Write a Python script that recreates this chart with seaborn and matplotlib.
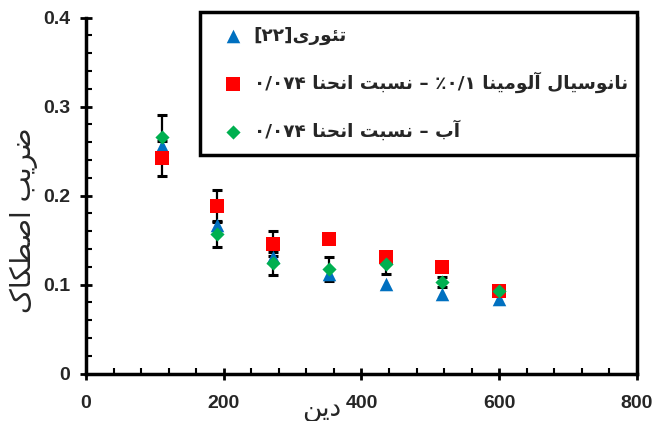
import numpy as np
import pandas as pd
import matplotlib
matplotlib.use("Agg")
import matplotlib.pyplot as plt
from matplotlib.ticker import MultipleLocator, FuncFormatter
import seaborn as sns

# ---------------- data ----------------
dean = [110, 190, 271, 353, 435, 517, 600]
theory = [0.256, 0.167, 0.131, 0.112, 0.101, 0.090, 0.084]
nanofluid = [0.242, 0.188, 0.146, 0.151, 0.131, 0.120, 0.093]
nanofluid_err = [0.020, 0.018, 0.014, 0.0, 0.0, 0.0, 0.0]
water = [0.266, 0.157, 0.124, 0.118, 0.123, 0.103, 0.093]
water_err = [0.025, 0.015, 0.013, 0.0135, 0.011, 0.006, 0.0]

x_ticks = [0, 200, 400, 600, 800]
y_ticks = [0, 0.1, 0.2, 0.3, 0.4]

# ---------------- simple Persian shaping (visual order) ----------------
FORMS = {
    'ا': ('\uFE8D', '\uFE8E', '\uFE8D', '\uFE8E'),
    'آ': ('\uFE81', '\uFE82', '\uFE81', '\uFE82'),
    'ب': ('\uFE8F', '\uFE90', '\uFE91', '\uFE92'),
    'ت': ('\uFE95', '\uFE96', '\uFE97', '\uFE98'),
    'ئ': ('\uFE89', '\uFE8A', '\uFE8B', '\uFE8C'),
    'و': ('\uFEED', '\uFEEE', '\uFEED', '\uFEEE'),
    'ر': ('\uFEAD', '\uFEAE', '\uFEAD', '\uFEAE'),
    'د': ('\uFEA9', '\uFEAA', '\uFEA9', '\uFEAA'),
    'ی': ('\uFBFC', '\uFBFD', '\uFBFE', '\uFBFF'),
    'ن': ('\uFEE5', '\uFEE6', '\uFEE7', '\uFEE8'),
    'س': ('\uFEB1', '\uFEB2', '\uFEB3', '\uFEB4'),
    'ل': ('\uFEDD', '\uFEDE', '\uFEDF', '\uFEE0'),
    'م': ('\uFEE1', '\uFEE2', '\uFEE3', '\uFEE4'),
    'ح': ('\uFEA1', '\uFEA2', '\uFEA3', '\uFEA4'),
    'ض': ('\uFEBD', '\uFEBE', '\uFEBF', '\uFEC0'),
    'ص': ('\uFEB9', '\uFEBA', '\uFEBB', '\uFEBC'),
    'ط': ('\uFEC1', '\uFEC2', '\uFEC3', '\uFEC4'),
    'ک': ('\uFB8E', '\uFB8F', '\uFB90', '\uFB91'),
}
RIGHT_ONLY = set('اآودر')


def shape(word):
    out = []
    for i, c in enumerate(word):
        prev = word[i - 1] if i > 0 else None
        nxt = word[i + 1] if i + 1 < len(word) else None
        jp = (prev in FORMS and prev not in RIGHT_ONLY) if prev else False
        jn = (nxt in FORMS and c not in RIGHT_ONLY) if nxt else False
        iso, fin, ini, med = FORMS[c]
        if jp and jn:
            out.append(med)
        elif jp:
            out.append(fin)
        elif jn:
            out.append(ini)
        else:
            out.append(iso)
    return ''.join(reversed(out))


def rtl(*words):
    # words given in logical (reading) order -> visual left-to-right
    return ' '.join(shape(w) for w in reversed(words))


lab_theory = "[۲۲]" + shape("تئوری")
lab_nano = "۰/۰۷۴ " + rtl("نسبت", "انحنا") + " – ٪۰/۱ " + rtl("نانوسیال", "آلومینا")
lab_water = "۰/۰۷۴ " + rtl("نسبت", "انحنا") + " – " + shape("آب")
ylab = rtl("ضریب", "اصطکاک")
xlab = shape("دین")

# ---------------- figure ----------------
sns.set_style("ticks")
plt.rcParams['font.family'] = ['Liberation Sans Narrow', 'Liberation Sans', 'DejaVu Sans']

fig = plt.figure(figsize=(6.54, 4.21), dpi=100)
ax = fig.add_axes([0.1315, 0.1124, 0.8425, 0.8456])

c_blue = '#0070C0'
c_red = '#FF0000'
c_green = '#00B050'

df = pd.DataFrame({'dean': dean, 'theory': theory, 'nano': nanofluid,
                   'nano_err': nanofluid_err, 'water': water, 'water_err': water_err})

ax.errorbar(df['dean'], df['nano'], yerr=df['nano_err'], fmt='none', ecolor='black',
            elinewidth=1.6, capsize=3.4, capthick=2.2, zorder=2)
ax.errorbar(df['dean'], df['water'], yerr=df['water_err'], fmt='none', ecolor='black',
            elinewidth=1.6, capsize=3.4, capthick=2.2, zorder=2)

sns.scatterplot(data=df, x='dean', y='theory', marker='^', s=95, color=c_blue,
                linewidth=0, ax=ax, zorder=3, label=lab_theory)
sns.scatterplot(data=df, x='dean', y='nano', marker='s', s=88, color=c_red,
                linewidth=0, ax=ax, zorder=4, label=lab_nano)
sns.scatterplot(data=df, x='dean', y='water', marker='D', s=52, color=c_green,
                linewidth=0, ax=ax, zorder=5, label=lab_water)

ax.set_xlim(0, 800)
ax.set_ylim(0, 0.4)
ax.set_xticks(x_ticks)
ax.set_yticks(y_ticks)
ax.xaxis.set_minor_locator(MultipleLocator(40))
ax.yaxis.set_minor_locator(MultipleLocator(0.02))
ax.yaxis.set_major_formatter(FuncFormatter(lambda v, p: f"{v:g}"))
ax.tick_params(which='major', direction='inout', length=9, width=2, color='black',
               labelsize=14, pad=7)
ax.tick_params(which='minor', direction='in', length=4.5, width=1.5, color='black')
ax.tick_params(axis='x', which='major', pad=11)
for lab in ax.get_xticklabels() + ax.get_yticklabels():
    lab.set_fontweight('bold')

for side in ['left', 'bottom', 'right']:
    ax.spines[side].set_linewidth(2.5)
    ax.spines[side].set_color('black')
ax.spines['top'].set_visible(False)

ax.set_xlabel('')
ax.set_ylabel('')
ax.text(-0.113, 0.43, ylab, transform=ax.transAxes, ha='center', va='center',
        rotation=90, fontsize=20, family=['DejaVu Sans'])
ax.text(0.428, -0.10, xlab, transform=ax.transAxes, ha='center', va='center',
        fontsize=19, family=['DejaVu Sans'])

leg = ax.legend(loc='upper left', bbox_to_anchor=(0.207, 1.016, 0.793, 0.0), mode='expand',
                frameon=True, fancybox=False, framealpha=1, edgecolor='black',
                prop={'family': ['DejaVu Sans'], 'weight': 'bold', 'size': 13.3},
                handletextpad=0.1, labelspacing=1.45, borderpad=0.8, handlelength=2.0,
                borderaxespad=0)
leg.get_frame().set_linewidth(2.5)
leg.set_zorder(10)

fig.savefig('out.png', dpi=100)
